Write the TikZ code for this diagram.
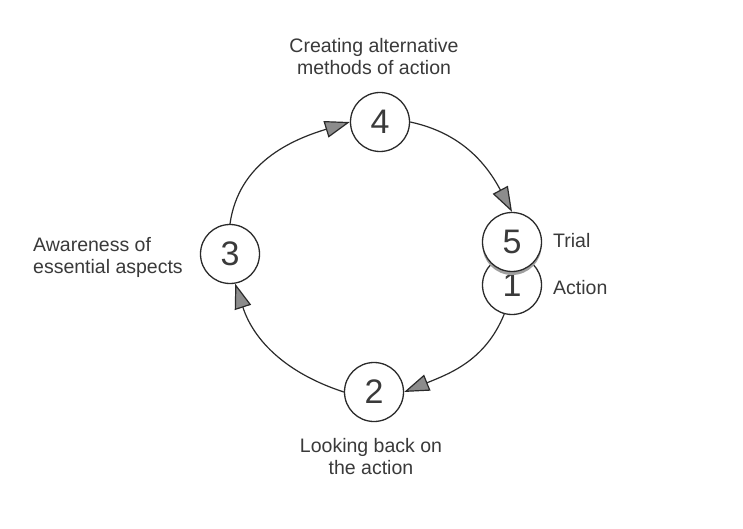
\documentclass[tikz,border=0pt]{standalone}
\usepackage{fontspec}
\setmainfont{Liberation Sans}
\usetikzlibrary{arrows.meta,shadows}
\definecolor{ink}{HTML}{2A2A2A}
\definecolor{txt}{HTML}{3A3A3A}
\definecolor{headfill}{HTML}{8C8C8C}
\begin{document}
\begin{tikzpicture}[
  numcirc/.style={circle, draw=ink, line width=1.3pt, fill=white, minimum size=59pt, inner sep=0pt,
    text=txt, font=\fontsize{34}{34}\selectfont},
  lbl/.style={text=txt, font=\fontsize{19.5}{22}\selectfont, inner sep=0pt},
  cyc/.style={draw=ink, line width=1.2pt, -{Triangle[length=25pt,width=17pt,fill=headfill]}}
]
\useasboundingbox (0,0) rectangle (743pt,-529pt);
\fill[white] (0,0) rectangle (743pt,-529pt);

\node[numcirc] (n4) at (380pt,-122pt) {4};
\node[numcirc] (n3) at (230pt,-254pt) {3};
\node[numcirc] (n2) at (374pt,-392pt) {2};
\node[numcirc] (n1) at (512pt,-285pt) {1};
\node[numcirc, drop shadow={shadow xshift=0pt, shadow yshift=-3.5pt, fill=gray!75, opacity=1}] (n5) at (512pt,-242pt) {5};

\node[lbl, align=center] (t4) at (374pt,-57pt) {Creating alternative\\methods of action};
\node[lbl, align=left, anchor=west] (t3) at (33pt,-257pt) {Awareness of\\essential aspects};
\node[lbl, align=center] (t2) at (371pt,-457pt) {Looking back on\\the action};
\node[lbl, anchor=west] (t5) at (553pt,-241pt) {Trial};
\node[lbl, anchor=west] (t1) at (553pt,-288pt) {Action};

\draw[cyc] (n3.north) to[out=82, in=197] (n4.west);
\draw[cyc] (n4.east) to[out=-12, in=118] (n5.north);
\draw[cyc] (n1.-105) to[out=-112, in=22] (n2.east);
\draw[cyc] (n2.west) to[out=162, in=-72] (n3.-80);
\end{tikzpicture}
\end{document}
